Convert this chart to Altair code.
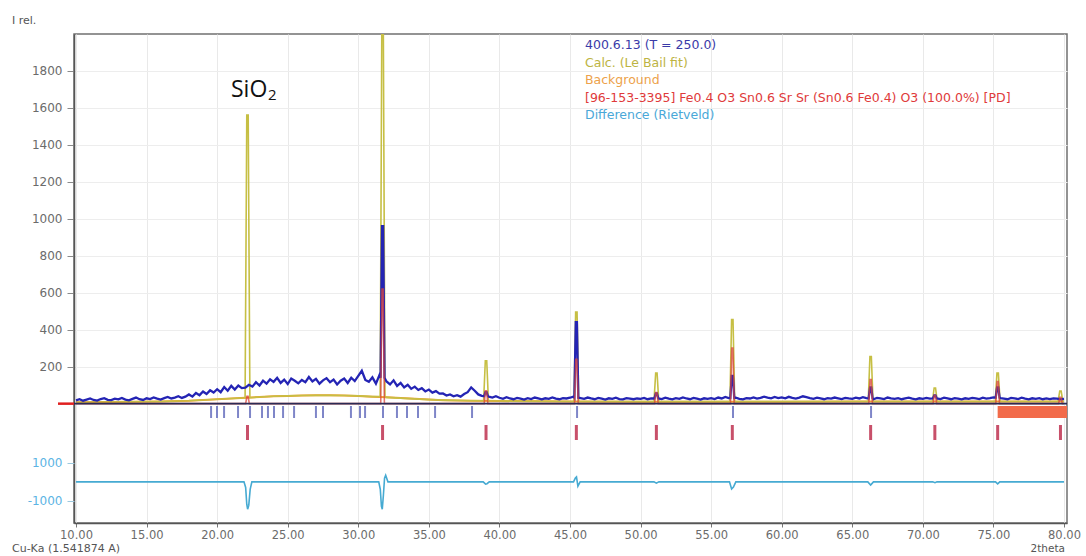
import altair as alt
import pandas as pd

# ---- measured scan: counts every 0.25 deg 2theta from 10 to 80 ----
scan_start, scan_step = 10.0, 0.25
obs_counts = [
    # 10.00 - 15.75
    18, 24, 16, 22, 28, 20, 17, 25, 30, 21, 19, 27,
    23, 31, 22, 18, 26, 33, 24, 20, 29, 25, 34, 27,
    # 16.00 - 19.75
    22, 30, 36, 28, 33, 40, 31, 38,
    50, 38, 58, 46, 66, 52, 72, 60,
    # 20.00 - 23.75
    78, 62, 90, 70, 96, 76, 98, 84,
    86, 102, 92, 116, 98, 124, 108, 132,
    # 24.00 - 27.75
    118, 140, 112, 130, 106, 136, 124, 110,
    128, 116, 144, 120, 134, 108, 126, 138,
    # 28.00 - 31.75
    116, 130, 104, 124, 136, 112, 140, 122,
    150, 178, 128, 118, 142, 108, 155, 120,
    # 32.00 - 35.75
    120, 104, 126, 96, 112, 88, 102, 80,
    92, 74, 84, 66, 76, 60, 68, 54,
    # 36.00 - 39.75
    55, 44, 50, 40, 46, 38, 52, 62,
    88, 70, 50, 42, 46, 38, 33, 40,
    # 40.00 - 44.75
    32, 26, 35, 28, 24, 31, 27, 22, 30, 25, 33, 28, 23, 29, 26, 34, 27, 24, 30, 28,
    # 45.00 - 49.75
    32, 38, 40, 30, 26, 33, 28, 24, 31, 27, 22, 29, 26, 32, 25, 23, 30, 27, 24, 28,
    # 50.00 - 54.75
    26, 31, 24, 29, 35, 28, 25, 32, 27, 23, 30, 26, 34, 28, 24, 31, 27, 22, 29, 26,
    # 55.00 - 59.75
    30, 25, 33, 28, 36, 30, 27, 32, 26, 23, 30, 28, 34, 27, 31, 38, 33, 29, 36, 30,
    # 60.00 - 64.75
    34, 29, 37, 31, 27, 33, 40, 35, 30, 26, 32, 28, 24, 30, 27, 33, 29, 25, 31, 28,
    # 65.00 - 69.75
    26, 32, 28, 35, 30, 27, 24, 31, 28, 25, 33, 29, 26, 30, 24, 28, 32, 27, 23, 29,
    # 70.00 - 74.75
    26, 31, 27, 33, 29, 25, 32, 28, 24, 30, 27, 23, 29, 26, 31, 28, 25, 32, 27, 30,
    # 75.00 - 80.00
    34, 38, 30, 27, 24, 31, 28, 25, 32, 27, 23, 29, 26, 30, 24, 28, 25, 29, 27, 24,
    26,
]
obs_x = [scan_start + i * scan_step for i in range(len(obs_counts))]

# sharp measured reflections
obs_peak_pos = [31.72, 39.05, 45.45, 51.12, 56.50, 66.30, 70.85, 75.30]
obs_peak_top = [960, 62, 440, 55, 150, 88, 45, 88]
obs_peak_base = [140, 40, 32, 28, 30, 28, 28, 32]

# refined background
bg_pos = [10, 12, 14, 16, 18, 19, 20, 21, 22, 23, 24, 25, 26, 27, 28, 29, 30,
          31, 32, 33, 34, 35, 36, 38, 40, 45, 50, 55, 60, 65, 70, 75, 80]
bg_val = [8, 9, 10, 12, 16, 20, 24, 28, 32, 36, 40, 42, 44, 45, 45, 44, 42,
          38, 34, 30, 26, 22, 19, 16, 14, 12, 11, 11, 11, 12, 12, 12, 12]

# Le Bail fit reflections (also the positions of the red phase ticks)
calc_peak_pos = [22.15, 31.72, 39.05, 45.45, 51.12, 56.50, 66.30, 70.85, 75.30, 79.75]
calc_peak_top = [1560, 2100, 232, 495, 165, 455, 255, 85, 165, 68]
calc_peak_base = [32, 38, 16, 12, 11, 11, 12, 12, 12, 12]

# contribution of the [96-153-3395] phase
phase_peak_top = [40, 620, 70, 240, 60, 300, 130, 45, 120, 35]

# reflection markers of the second row of ticks
bragg_other = [19.57, 19.99, 20.49, 21.48, 22.33, 23.18, 23.60, 24.03, 24.67,
               25.45, 27.0, 27.5, 29.48, 30.12, 30.48, 31.75, 32.74, 33.45,
               34.23, 35.44, 38.06, 45.5, 56.55, 66.33]

# excluded region
excl_start, excl_end = 75.3, 80.213

# Rietveld difference curve
diff_pos = [10.0, 21.9, 22.02, 22.1, 22.16, 22.24, 22.34, 22.46,
            31.45, 31.56, 31.64, 31.7, 31.78, 31.86, 31.94, 32.1,
            38.85, 39.02, 39.12, 39.28,
            45.25, 45.38, 45.46, 45.56, 45.72,
            50.95, 51.12, 51.3,
            56.3, 56.45, 56.58, 56.75,
            66.1, 66.3, 66.5,
            70.7, 70.86, 71.0,
            75.15, 75.3, 75.45, 80.0]
diff_val = [0, 0, -300, -1200, -1450, -1250, -400, 0,
            0, -400, -1300, -1450, -700, 200, 350, 0,
            0, -120, -100, 0,
            0, 200, 260, -230, 0,
            0, -70, 0,
            0, -380, -280, 0,
            0, -170, 0,
            0, -45, 0,
            0, -110, 0, 0]

legend_lines = [
    ("400.6.13 (T = 250.0)", "#3a3aa8"),
    ("Calc. (Le Bail fit)", "#bdb443"),
    ("Background", "#eda24a"),
    ("[96-153-3395] Fe0.4 O3 Sn0.6 Sr Sr (Sn0.6 Fe0.4) O3 (100.0%) [PD]", "#e03a3a"),
    ("Difference (Rietveld)", "#4aa8d8"),
]


def with_peaks(base_x, base_y, pos, top, base, top_half, base_half):
    """Merge a smooth/noisy trace with narrow trapezoid reflection profiles."""
    pts = [(x, y) for x, y in zip(base_x, base_y)
           if all(abs(x - p) > base_half + 0.02 for p in pos)]
    for p, t, b in zip(pos, top, base):
        pts += [(p - base_half, b), (p - top_half, t), (p + top_half, t), (p + base_half, b)]
    pts.sort()
    return pd.DataFrame(pts, columns=["x", "y"])


obs_df = with_peaks(obs_x, obs_counts, obs_peak_pos, obs_peak_top, obs_peak_base, 0.04, 0.14)
calc_df = with_peaks(bg_pos, bg_val, calc_peak_pos, calc_peak_top, calc_peak_base, 0.05, 0.17)
phase_df = with_peaks([10, 80], [0, 0], calc_peak_pos, phase_peak_top,
                      [0] * len(calc_peak_pos), 0.04, 0.13)
bg_df = pd.DataFrame({"x": bg_pos, "y": bg_val})
diff_df = pd.DataFrame({"x": diff_pos, "d": diff_val})

FONT = "DejaVu Sans"
W, H = 993, 489

x_enc = alt.X(
    "x:Q",
    scale=alt.Scale(domain=[9.858, 80.213], nice=False, zero=False),
    axis=alt.Axis(values=list(range(10, 81, 5)), format=".2f", labelFlush=False,
                  labelOverlap=False, labelFontSize=11.5, labelColor="#6b6b6b",
                  labelFont=FONT, labelPadding=2, tickSize=4, tickColor="#777777",
                  domainColor="#555555", domainWidth=1.5, grid=True,
                  gridColor="#e9e9e9", title=None),
)

main_scale = alt.Scale(domain=[-645, 1998], nice=False, zero=False)
main_axis = alt.Axis(values=list(range(200, 1801, 200)), format="d", labelColor="#6b6b6b",
                     labelFont=FONT, labelFontSize=12, labelPadding=5, tickSize=7,
                     tickColor="#8a8a8a", domainColor="#555555", domainWidth=1.5,
                     grid=True, gridColor="#ededed", title=None)


def main_y(field="y"):
    return alt.Y(f"{field}:Q", scale=main_scale, axis=main_axis)


bg_line = alt.Chart(bg_df).mark_line(color="#f29a2e", strokeWidth=2).encode(x=x_enc, y=main_y())
calc_line = alt.Chart(calc_df).mark_line(color="#c6bf44", strokeWidth=1.6, clip=True).encode(
    x=x_enc, y=main_y())
obs_line = alt.Chart(obs_df).mark_line(color="#2424b4", strokeWidth=2.3).encode(x=x_enc, y=main_y())
phase_line = alt.Chart(phase_df).mark_line(color="#d8443c", strokeWidth=1.6, opacity=0.75).encode(
    x=x_enc, y=main_y())

zero_df = pd.DataFrame({"y": [0]})
zero_rule = alt.Chart(zero_df).mark_rule(color="#2b2b55", strokeWidth=1.8).encode(y=main_y())
zero_marker = alt.Chart(zero_df).mark_rule(color="#e02020", strokeWidth=2.5).encode(
    x=alt.value(-16), x2=alt.value(0), y=main_y())

other_ticks = alt.Chart(pd.DataFrame({"x": bragg_other})).mark_rule(
    color="#7f86c8", strokeWidth=2).encode(x=x_enc, y=alt.value(372), y2=alt.value(384))
phase_ticks = alt.Chart(pd.DataFrame({"x": calc_peak_pos})).mark_rule(
    color="#c8506a", strokeWidth=3).encode(x=x_enc, y=alt.value(391), y2=alt.value(406))
excl_rect = alt.Chart(pd.DataFrame({"x": [excl_start], "x2": [excl_end]})).mark_rect(
    color="#f26b4a").encode(x=x_enc, x2="x2:Q", y=alt.value(372), y2=alt.value(384))


def label(text, x, y, size, color, align="left", font=FONT, baseline="middle"):
    return alt.Chart(pd.DataFrame({"t": [text]})).mark_text(
        align=align, baseline=baseline, fontSize=size, color=color, font=font).encode(
        text="t:N", x=alt.value(x), y=alt.value(y))


legend_layers = [label(t, 511, 11 + i * 17.5, 12.5, c) for i, (t, c) in enumerate(legend_lines)]

annotations = [
    label("SiO", 157, 63, 23, "#111111", font="Open Sans", baseline="alphabetic"),
    label("2", 194, 65.5, 15, "#111111", font="Open Sans", baseline="alphabetic"),
    label("I rel.", -62, -13, 11, "#555555"),
    label("Cu-Ka (1.541874 A)", -62, 514.5, 11, "#555555"),
    label("2theta", 991, 515, 10.5, "#555555", align="right"),
]

main_layer = alt.layer(
    bg_line, calc_line, obs_line, phase_line, zero_rule, zero_marker,
    other_ticks, phase_ticks, excl_rect, *legend_layers, *annotations,
)

diff_line = alt.Chart(diff_df).mark_line(color="#46aad2", strokeWidth=1.6).encode(
    x=x_enc,
    y=alt.Y("d:Q", scale=alt.Scale(domain=[-2183, 23758], nice=False, zero=False),
            axis=alt.Axis(orient="left", values=[-1000, 1000], labelColor="#5cb4e4",
                          labelFont=FONT, labelFontSize=12, labelPadding=5, tickSize=7,
                          tickColor="#9cc8de", grid=False, domain=False, title=None,
                          labelExpr="datum.value < 0 ? '-' + abs(datum.value) : '' + datum.value")),
)

chart = (
    alt.layer(main_layer, diff_line)
    .resolve_scale(y="independent")
    .properties(
        width=W, height=H,
        autosize=alt.AutoSizeParams(type="none"),
        padding={"left": 74, "top": 34, "right": 19, "bottom": 33},
        background="white",
    )
    .configure_view(stroke="#707070", strokeWidth=1.5)
)

chart.save("out.html", embed_options={"renderer": "svg", "actions": False})
